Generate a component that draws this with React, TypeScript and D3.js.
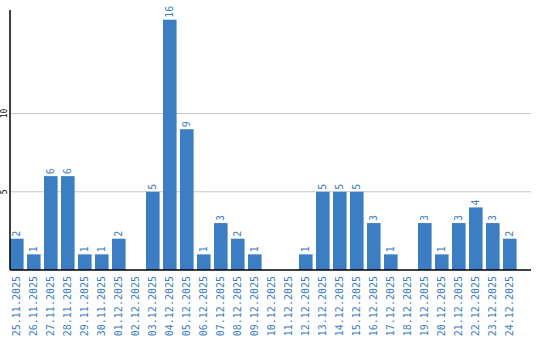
import React from "react";
import * as d3 from "d3";

const dates = [
  "25.11.2025", "26.11.2025", "27.11.2025", "28.11.2025", "29.11.2025", "30.11.2025",
  "01.12.2025", "02.12.2025", "03.12.2025", "04.12.2025", "05.12.2025", "06.12.2025",
  "07.12.2025", "08.12.2025", "09.12.2025", "10.12.2025", "11.12.2025", "12.12.2025",
  "13.12.2025", "14.12.2025", "15.12.2025", "16.12.2025", "17.12.2025", "18.12.2025",
  "19.12.2025", "20.12.2025", "21.12.2025", "22.12.2025", "23.12.2025", "24.12.2025",
];
const counts = [2, 1, 6, 6, 1, 1, 2, 0, 5, 16, 9, 1, 3, 2, 1, 0, 0, 1, 5, 5, 5, 3, 1, 0, 3, 1, 3, 4, 3, 2];
const yTicks = [5, 10];

const W = 540;
const H = 340;
const left = 10;
const plotRight = 531;
const baseY = 270;
const topY = 10;
const blue = "#3b7ec3";
const font = "'DejaVu Sans Mono', monospace";

export default function App() {
  const x = d3.scaleBand<string>().domain(dates).range([left, 516.6]).paddingInner(0.2).paddingOuter(0);
  const y = d3.scaleLinear().domain([0, 16.62]).range([baseY, topY]);

  return (
    <svg width={W} height={H} style={{ position: "absolute", left: 0, top: 0, background: "#fff" }}>
      {yTicks.map((t) => (
        <g key={t}>
          <line x1={left} x2={plotRight} y1={y(t)} y2={y(t)} stroke="#c8c8c8" strokeWidth={1} />
          <text
            transform={`translate(7,${y(t)}) rotate(-90)`}
            textAnchor="middle"
            fontFamily={font}
            fontSize={8}
            fill="#000"
          >
            {t}
          </text>
        </g>
      ))}
      {dates.map((d, i) => {
        const v = counts[i];
        const bx = x(d)!;
        const cx = bx + x.bandwidth() / 2;
        return (
          <g key={d}>
            {v > 0 && (
              <>
                <rect x={bx} y={y(v)} width={x.bandwidth()} height={baseY - y(v)} fill={blue} />
                <text
                  transform={`translate(${cx},${y(v) - 2}) rotate(-90)`}
                  textAnchor="start"
                  dy="0.35em"
                  fontFamily={font}
                  fontSize={10}
                  fill={blue}
                >
                  {v}
                </text>
              </>
            )}
            <text
              transform={`translate(${cx},276) rotate(-90)`}
              textAnchor="end"
              dy="0.35em"
              fontFamily={font}
              fontSize={10}
              fill={blue}
            >
              {d}
            </text>
          </g>
        );
      })}
      <line x1={left} x2={left} y1={topY} y2={baseY} stroke="#000" strokeWidth={1.5} />
      <line x1={left} x2={plotRight} y1={baseY} y2={baseY} stroke="#000" strokeWidth={1.5} />
    </svg>
  );
}
